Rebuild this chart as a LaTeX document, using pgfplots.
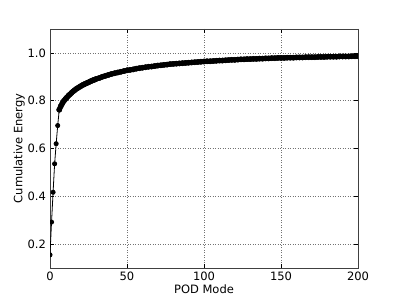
\documentclass[border=0pt]{standalone}
\usepackage{pgfplots}
\pgfplotsset{compat=1.18}
\usepackage{fontspec}
\setmainfont{DejaVu Sans}
\pgfplotstableread{
x y
0 0.155
1 0.292
2 0.417
3 0.536
4 0.620
5 0.696
6 0.762
}\first
\pgfplotstableread{
x y
6 .762
7 .777
8 .789
9 .799
10 .807
11 .814
12 .821
13 .827
14 .833
15 .839
16 .844
17 .849
18 .853
19 .857
20 .861
21 .865
22 .868
23 .871
24 .874
25 .877
26 .880
27 .883
28 .886
29 .888
30 .891
32 .895
34 .900
36 .904
38 .908
40 .912
42 .915
44 .918
46 .921
48 .924
50 .927
52 .929
54 .931
56 .934
58 .936
60 .938
62 .940
64 .942
66 .943
68 .945
70 .947
72 .948
74 .950
76 .951
78 .953
80 .954
82 .955
84 .956
86 .957
88 .958
90 .959
92 .960
94 .961
96 .962
98 .963
100 .964
102 .965
104 .965
106 .966
108 .967
110 .968
112 .968
114 .969
116 .970
118 .971
120 .971
122 .972
124 .973
126 .973
128 .974
130 .974
132 .975
134 .975
136 .976
138 .976
140 .977
142 .977
144 .978
146 .978
148 .979
150 .979
152 .979
154 .980
156 .980
158 .980
160 .981
162 .981
164 .981
166 .982
168 .982
170 .982
172 .982
174 .983
176 .983
178 .983
180 .984
182 .984
184 .984
186 .984
188 .985
190 .985
192 .985
194 .985
196 .986
198 .986
200 .986
}\band
\begin{document}
\fontsize{11.5bp}{14bp}\selectfont
\begin{tikzpicture}
\useasboundingbox (0bp,0bp) rectangle (399bp,299bp);
\begin{axis}[
  at={(50bp,31bp)}, anchor=south west,
  width=308bp, height=239bp, scale only axis,
  xmin=0, xmax=200, ymin=0.1, ymax=1.1,
  xtick={0,50,100,150,200},
  ytick={0.2,0.4,0.6,0.8,1.0},
  yticklabel style={/pgf/number format/fixed,/pgf/number format/fixed zerofill,/pgf/number format/precision=1},
  /pgf/number format/assume math mode=true,
  tick align=inside, tick pos=both,
  major tick length=4bp,
  tick style={black, line width=0.6bp},
  axis line style={black!75, line width=0.9bp},
  grid=major,
  major grid style={black!55, line width=0.5bp, dash pattern=on 1bp off 1.5bp},
  xlabel={POD Mode}, ylabel={Cumulative Energy},
  xlabel style={yshift=4bp},
  ylabel style={yshift=-5bp},
  ticklabel style={font=\fontsize{11.5bp}{14bp}\selectfont},
  label style={font=\fontsize{11.5bp}{14bp}\selectfont},
  clip marker paths=true,
]
\addplot[black, line width=0.8bp, mark=*, mark size=2.1bp] table {\first};
\addplot[black, line width=5bp, line join=round, mark=*, mark size=2.7bp, mark options={line width=0.4bp}] table {\band};
\end{axis}
\end{tikzpicture}
\end{document}
